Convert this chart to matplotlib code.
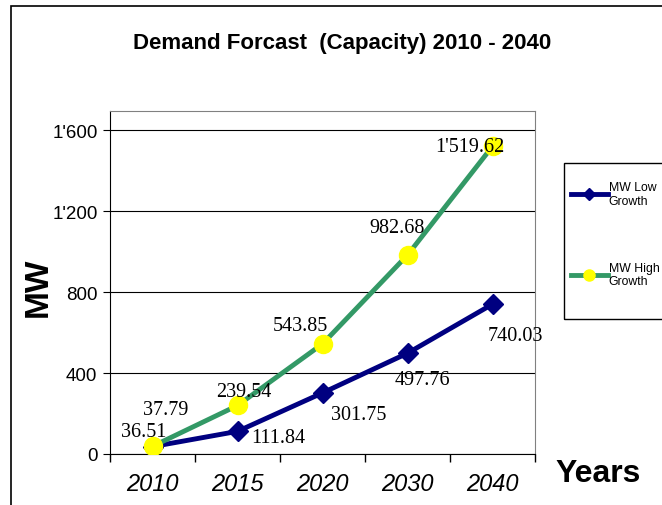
import matplotlib.pyplot as plt
from matplotlib.patches import Rectangle
from matplotlib.lines import Line2D
from matplotlib.ticker import FuncFormatter

years = ['2010', '2015', '2020', '2030', '2040']
mw_low = [36.51, 111.84, 301.75, 497.76, 740.03]
mw_high = [37.79, 239.54, 543.85, 982.68, 1519.62]
low_labels = ['36.51', '111.84', '301.75', '497.76', '740.03']
high_labels = ['37.79', '239.54', '543.85', '982.68', "1'519.62"]
# label offsets in pixels (dx, dy)
low_off = [(-9, 15), (41, -6), (36, -22), (15, -26), (23, -31)]
high_off = [(13, 37), (6, 14), (-22, 18), (-10, 28), (-23, 0)]

navy = '#000080'
green = '#339966'
yellow = '#FFFF00'

fig = plt.figure(figsize=(6.62, 5.06), dpi=100)
W, H = 662, 506

# outer chart border (runs off the right and bottom edges)
fig.patches.append(Rectangle((11 / W, -0.1), 1, 1.1 - 7 / H, transform=fig.transFigure,
                             fill=False, edgecolor='black', linewidth=1.2))

ax = fig.add_axes([110 / W, 51 / H, 425 / W, 343 / H])
x = list(range(len(years)))

ax.plot(x, mw_low, color=navy, linewidth=3.5, marker='D', markersize=10,
        markerfacecolor=navy, markeredgecolor=navy, zorder=3)
ax.plot(x, mw_high, color=green, linewidth=3.5, marker='o', markersize=13,
        markerfacecolor=yellow, markeredgecolor=yellow, zorder=4)

for i in x:
    ax.annotate(low_labels[i], (i, mw_low[i]), xytext=low_off[i], textcoords='offset pixels',
                ha='center', va='center', fontsize=14.5, family='Liberation Serif', zorder=5)
    ax.annotate(high_labels[i], (i, mw_high[i]), xytext=high_off[i], textcoords='offset pixels',
                ha='center', va='center', fontsize=14.5, family='Liberation Serif', zorder=5)

ax.set_xlim(-0.5, 4.5)
ax.set_ylim(0, 1694)
ax.set_yticks([0, 400, 800, 1200, 1600])
ax.yaxis.set_major_formatter(FuncFormatter(lambda v, p: f"{int(v):,}".replace(',', "'")))
ax.set_xticks(x)
ax.set_xticklabels(years, fontsize=17, style='italic', family='Liberation Sans')
ax.set_xticks([i - 0.5 for i in range(6)], minor=True)
ax.tick_params(axis='x', which='major', length=0, pad=13)
ax.tick_params(axis='x', which='minor', length=6, direction='out', width=1)
ax.tick_params(axis='y', length=5, direction='out', labelsize=13.5, pad=4)
for lab in ax.get_yticklabels():
    lab.set_family('Liberation Sans')

ax.grid(axis='y', color='black', linewidth=0.8)
ax.set_axisbelow(True)
ax.spines['top'].set_color('#808080')
ax.spines['right'].set_color('#808080')

fig.text(342 / W, 1 - 43 / H, 'Demand Forcast  (Capacity) 2010 - 2040', ha='center', va='center',
         fontsize=16, fontweight='bold', family='Liberation Sans')
fig.text(38 / W, 1 - 287 / H, 'MW', rotation=90, ha='center', va='center',
         fontsize=24, fontweight='bold', family='Liberation Sans')
fig.text(598 / W, 1 - 474 / H, 'Years', ha='center', va='center',
         fontsize=23, fontweight='bold', family='Liberation Sans')

# legend box
fig.patches.append(Rectangle((564 / W, 1 - 320 / H), 0.2, 156 / H, transform=fig.transFigure,
                             fill=False, edgecolor='black', linewidth=1))
handles = [Line2D([], [], color=navy, linewidth=3.5, marker='D', markersize=6),
           Line2D([], [], color=green, linewidth=3.5, marker='o', markersize=8,
                  markerfacecolor=yellow, markeredgecolor=yellow)]
fig.legend(handles, ['MW Low\nGrowth', 'MW High\nGrowth'], loc='upper left',
           bbox_to_anchor=(566 / W, 1 - 177 / H), frameon=False, handlelength=3.0,
           handletextpad=0.1, labelspacing=4.5, prop={'family': 'Liberation Sans', 'size': 8.8},
           borderaxespad=0)

fig.savefig('out.png', dpi=100)
